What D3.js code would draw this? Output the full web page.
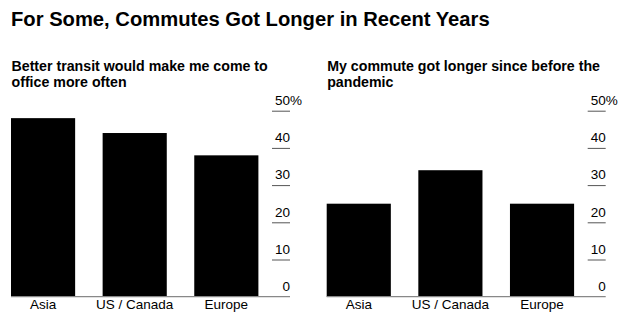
<!DOCTYPE html>
<html><head><meta charset="utf-8">
<script src="https://cdn.jsdelivr.net/npm/d3@7"></script>
<style>
body{margin:0;background:#fff;}
svg text{font-family:"Liberation Sans",Arial,Helvetica,sans-serif;fill:#000;}
</style></head>
<body><svg id="c" width="628" height="329"></svg>
<script>
const title = "For Some, Commutes Got Longer in Recent Years";
const categories = ["Asia", "US / Canada", "Europe"];
const transitValues = [48, 44, 38];
const commuteValues = [25, 34, 25];
const panelTitles = [
  ["Better transit would make me come to", "office more often"],
  ["My commute got longer since before the", "pandemic"]
];
const tickValues = [0, 10, 20, 30, 40, 50];

const svg = d3.select("#c");
svg.append("text").attr("x", 11).attr("y", 26)
  .attr("font-size", 20.2).attr("font-weight", "bold").text(title);

const y = d3.scaleLinear().domain([0, 50]).range([296.7, 110.7]);

function panel(offset, values, lines) {
  const g = svg.append("g").attr("transform", `translate(${offset},0)`);
  lines.forEach((l, i) => {
    g.append("text").attr("x", 0.5).attr("y", 71 + i * 16)
      .attr("font-size", 14.2).attr("font-weight", "bold").text(l);
  });
  const x = d3.scaleBand().domain(categories).range([0, 247.4]).paddingInner(0.3).paddingOuter(0);
  g.selectAll("rect.bar").data(values).join("rect").attr("class", "bar")
    .attr("x", (d, i) => x(categories[i])).attr("width", x.bandwidth())
    .attr("y", d => y(d)).attr("height", d => y(0) - y(d)).attr("fill", "#000");
  const axEnd = 279;
  const ay = g.append("g").attr("transform", `translate(${axEnd},0)`)
    .call(d3.axisLeft(y).tickValues(tickValues).tickSize(18).tickFormat(d3.format("d")));
  ay.select(".domain").remove();
  ay.selectAll(".tick line").attr("stroke", "#555").attr("stroke-width", 1)
    .attr("display", d => d === 0 ? "none" : null);
  ay.selectAll(".tick text").attr("x", 0).attr("dy", 0).attr("y", -6.3)
    .attr("text-anchor", "end").attr("font-size", 13.5)
    .attr("font-family", '"Liberation Sans",Arial,Helvetica,sans-serif').attr("fill", "#000");
  ay.selectAll(".tick").filter(d => d === 50).append("text")
    .attr("x", 0).attr("y", -6.3).attr("text-anchor", "start").attr("font-size", 13.5)
    .attr("fill", "#000").text("%");
  g.append("line").attr("x1", 0).attr("x2", axEnd).attr("y1", y(0)).attr("y2", y(0))
    .attr("stroke", "#888").attr("stroke-width", 1.2);
  const ax = g.append("g").attr("transform", `translate(0,${y(0)})`)
    .call(d3.axisBottom(x).tickSize(0));
  ax.select(".domain").remove();
  ax.selectAll(".tick text").attr("dy", 0).attr("y", 12.8).attr("font-size", 13.5)
    .attr("font-family", '"Liberation Sans",Arial,Helvetica,sans-serif').attr("fill", "#000");
}
panel(11, transitValues, panelTitles[0]);
panel(326.7, commuteValues, panelTitles[1]);
</script></body></html>
